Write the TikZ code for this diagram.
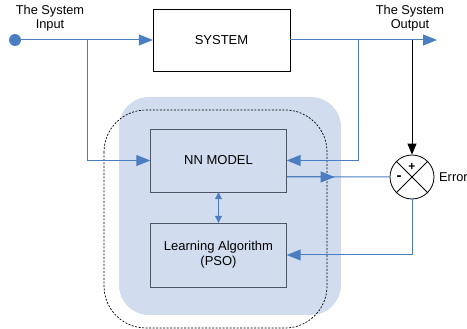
\documentclass[tikz,border=0pt]{standalone}
\usepackage{fontspec}
\setmainfont{Liberation Sans}
\usetikzlibrary{arrows.meta,positioning,calc}
\definecolor{flowblue}{RGB}{74,126,193}
\definecolor{panelblue}{RGB}{209,221,239}
\definecolor{boxgray}{RGB}{78,86,100}

\begin{document}
\begin{tikzpicture}[x=1pt,y=-1pt,
  blk/.style={rectangle,draw,minimum width=136pt,minimum height=63pt,align=center,inner sep=2pt,font=\fontsize{13}{15}\selectfont},
  flow/.style={flowblue,line width=1pt,-{Triangle[length=14pt,width=11pt]}},
  wire/.style={flowblue,line width=1pt},
  lbl/.style={align=center,inner sep=0pt,font=\fontsize{12.8}{14}\selectfont}]
  \useasboundingbox (0,0) rectangle (467,329);
  % training panel behind the model
  \fill[panelblue,rounded corners=30pt] (119,97) rectangle (341,315);
  \draw[dash pattern=on 2pt off 1.5pt,line width=0.7pt,rounded corners=42pt] (104,110) rectangle (327,328);
  % blocks
  \node[blk,draw=black,fill=white,minimum width=137pt,minimum height=62pt] (sys) at (221.5,40) {SYSTEM};
  \node[blk,draw=boxgray] (nn) at (218.5,160.5) {NN MODEL};
  \node[blk,draw=boxgray,minimum height=64pt] (la) at (218.5,255) {Learning Algorithm\\(PSO)};
  \node[circle,draw,line width=0.8pt,minimum size=44pt,inner sep=0pt] (err) at (412,177) {};
  \draw[line width=0.8pt] (err.north east) -- (err.south west) (err.north west) -- (err.south east);
  \node[font=\bfseries\fontsize{12}{12}\selectfont,inner sep=0pt] (plus) at (412,167) {+};
  \node[font=\bfseries\fontsize{15}{12}\selectfont,inner sep=0pt] (minus) at (399,178) {-};
  \node[lbl,anchor=west] (errlbl) at (439,177) {Error};
  % input / output
  \node[circle,fill=flowblue,minimum size=12pt,inner sep=0pt] (in) at (15,40) {};
  \node[lbl] (inlbl) at (50,18) {The System\\Input};
  \node[lbl] (outlbl) at (410,18) {The System\\Output};
  \coordinate (out) at (437,40);
  \coordinate (jin) at (87,40);
  \coordinate (jout) at (358,40);
  \coordinate (jerr) at (412,40);
  \coordinate (nnout) at ($(nn.south east)!0.24!(nn.north east)$);
  % connectors
  \draw[flow] (in) -- (sys);
  \draw[flow] (sys) -- (out);
  \draw[flow] (jin) |- (nn.west);
  \draw[flow] (jout) |- (nn.east);
  \draw[line width=0.9pt,-{Triangle[length=11pt,width=9pt]}] (jerr) -- (err.north);
  \draw[wire] (nnout) -- (err.west);
  \draw[flow] (nnout) -- ++(48,0);
  \draw[flow] (err.south) |- (la.east);
  \draw[wire,{Triangle[length=7pt,width=7pt]}-{Triangle[length=7pt,width=7pt]}] (nn.south) -- (la.north);
\end{tikzpicture}
\end{document}
